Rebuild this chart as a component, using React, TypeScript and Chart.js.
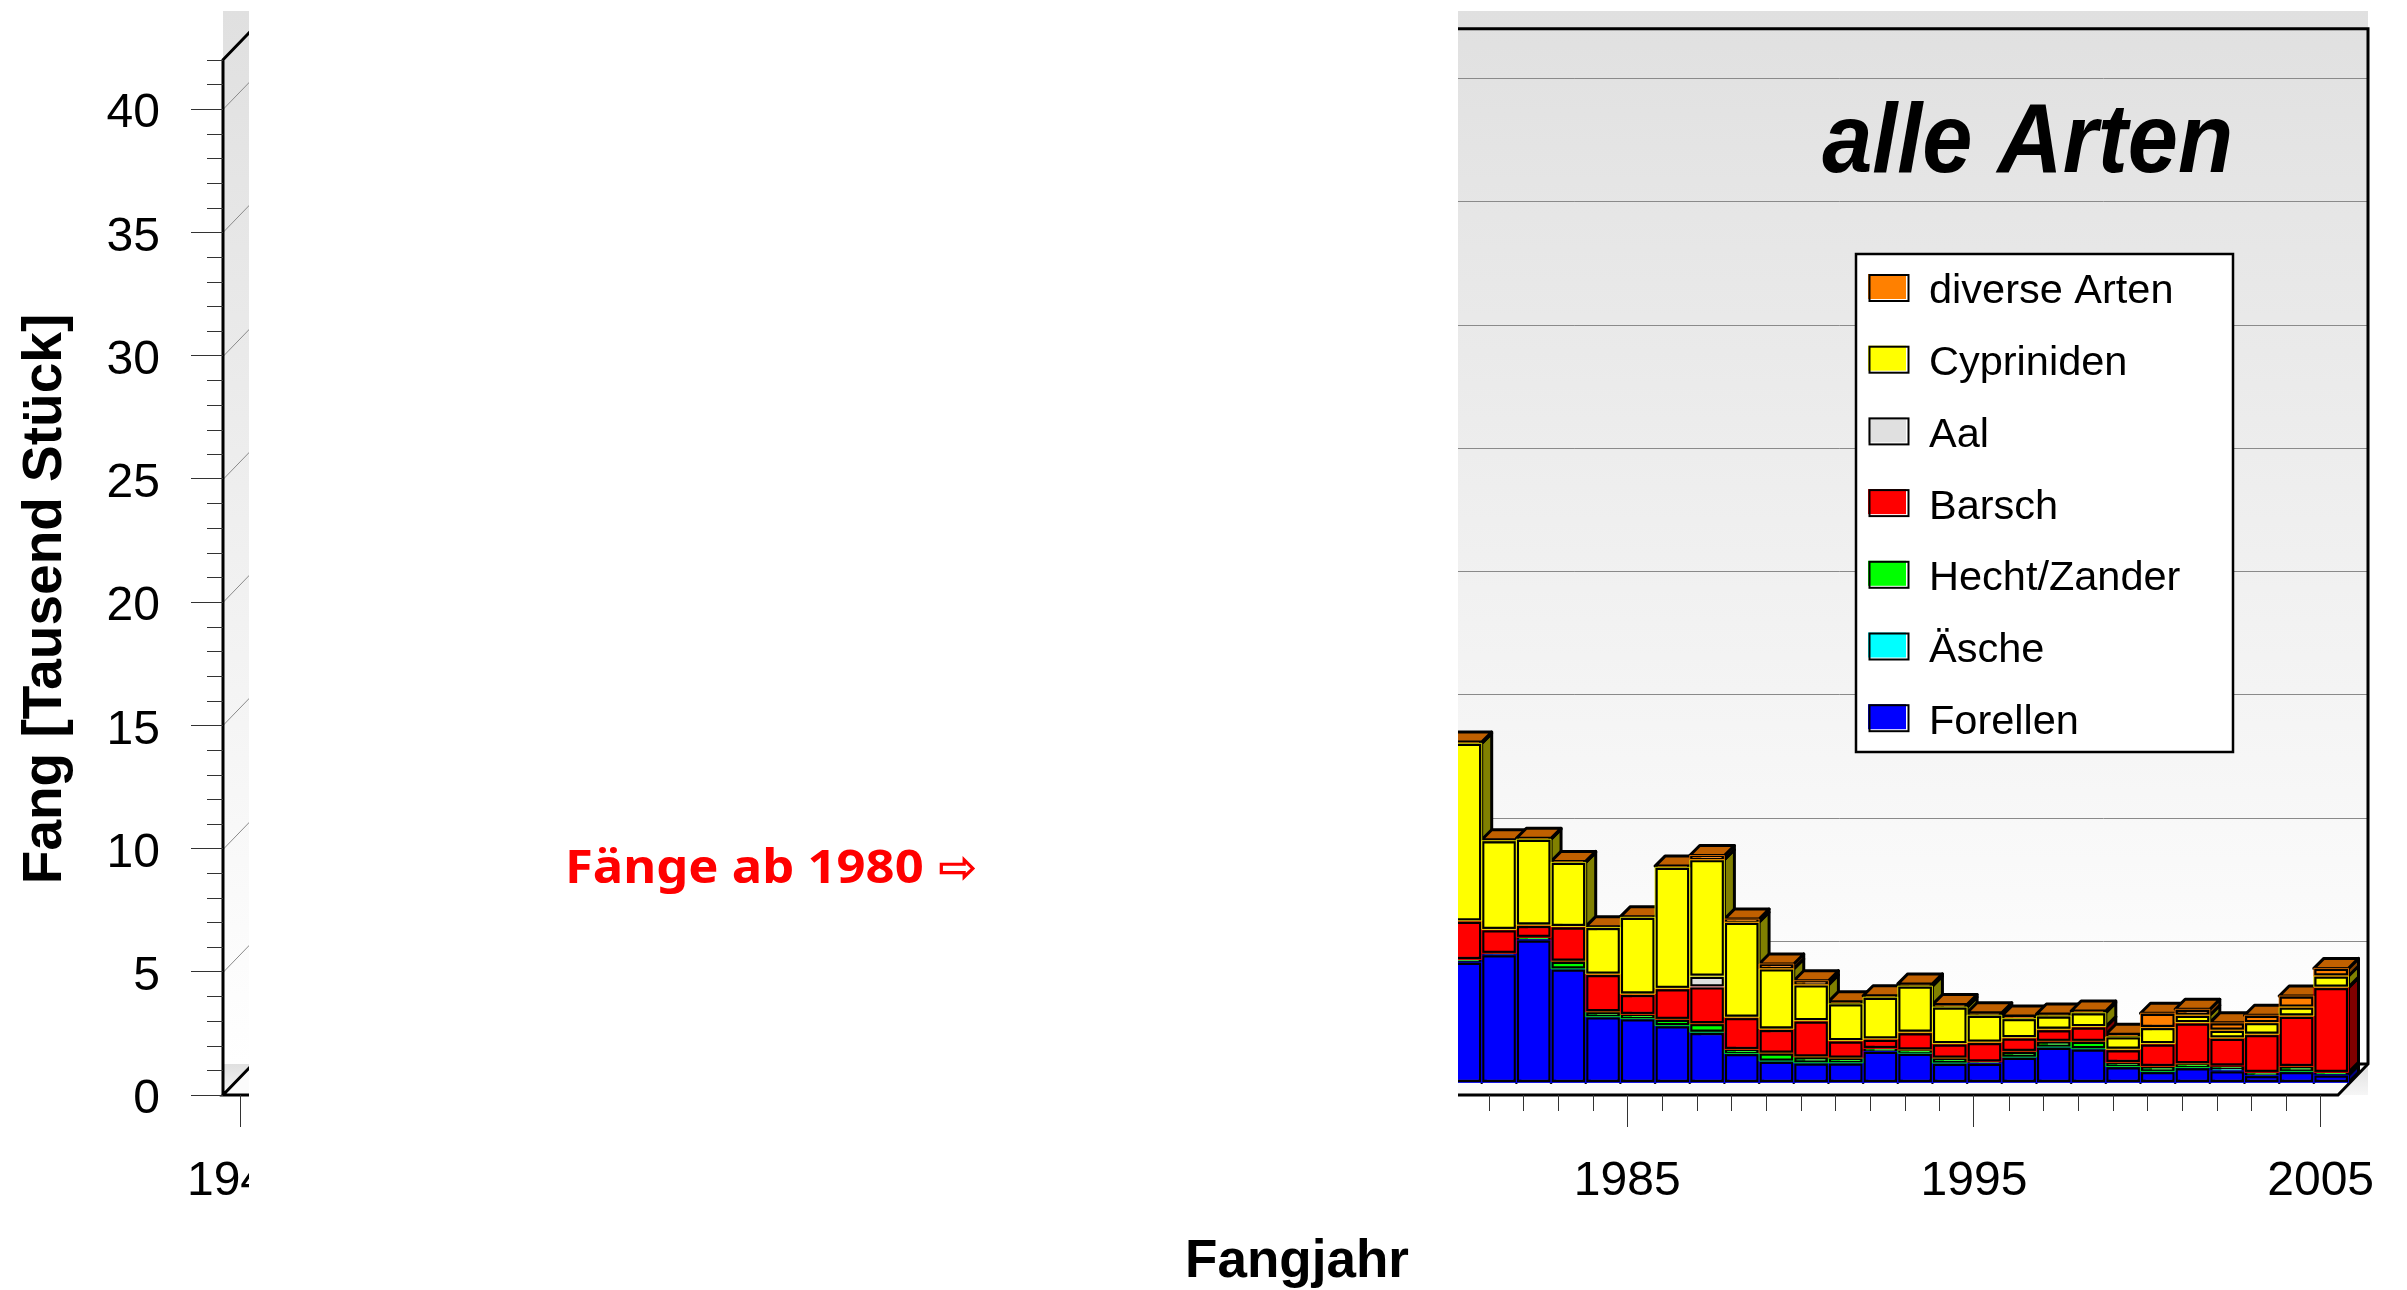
import React, { useEffect, useRef } from "react";
import { Chart, registerables } from "chart.js";

Chart.register(...registerables);

const years: string[] = Array.from({ length: 61 }, (_, i) => String(1945 + i));
const dataYears = 26; // 1980..2005
const leadIn: null[] = Array.from({ length: 35 }, () => null);

const forellen = [4.9, 5.2, 5.8, 4.62, 2.68, 2.6, 2.32, 2.05, 1.19, 0.88, 0.81, 0.81, 1.28, 1.2, 0.8, 0.8, 1.04, 1.45, 1.38, 0.66, 0.46, 0.62, 0.49, 0.3, 0.46, 0.32];
const aesche = [0.01, 0.01, 0.01, 0.01, 0.01, 0.01, 0.01, 0.01, 0.01, 0.01, 0.01, 0.01, 0.01, 0.01, 0.01, 0.01, 0.01, 0.01, 0.01, 0.01, 0.01, 0.01, 0.08, 0.01, 0.01, 0.01];
const hecht = [0.1, 0.05, 0.1, 0.31, 0.2, 0.17, 0.25, 0.35, 0.16, 0.32, 0.24, 0.19, 0.11, 0.13, 0.2, 0.05, 0.23, 0.23, 0.3, 0.16, 0.2, 0.15, 0.12, 0.12, 0.2, 0.1];
const barsch = [1.55, 0.95, 0.48, 1.39, 1.51, 0.81, 1.24, 1.49, 1.29, 0.96, 1.45, 0.69, 0.37, 0.7, 0.57, 0.78, 0.54, 0.47, 0.58, 0.52, 0.91, 1.65, 1.12, 1.53, 2.03, 3.44];
const aal = [0.02, 0.02, 0.02, 0.02, 0.02, 0.02, 0.02, 0.43, 0.02, 0.02, 0.02, 0.02, 0.02, 0.02, 0.02, 0.02, 0.02, 0.02, 0.02, 0.02, 0.02, 0.02, 0.02, 0.02, 0.02, 0.02];
const cypriniden = [7.2, 3.6, 3.48, 2.6, 1.89, 3.11, 4.91, 4.73, 3.85, 2.44, 1.45, 1.49, 1.69, 1.87, 1.48, 1.09, 0.77, 0.54, 0.56, 0.5, 0.65, 0.3, 0.31, 0.47, 0.36, 0.45];
const diverse = [0.05, 0.04, 0.04, 0.04, 0.03, 0.03, 0.05, 0.17, 0.13, 0.2, 0.17, 0.09, 0.06, 0.09, 0.1, 0.1, 0.11, 0.08, 0.07, 0.11, 0.58, 0.24, 0.3, 0.3, 0.45, 0.31];

const seriesNames = ["Forellen", "Äsche", "Hecht/Zander", "Barsch", "Aal", "Cypriniden", "diverse Arten"];
const seriesValues = [forellen, aesche, hecht, barsch, aal, cypriniden, diverse];
const seriesColors = ["#0000ff", "#00ffff", "#00ff00", "#ff0000", "#e0e0e0", "#ffff00", "#ff8000"];
const seriesSides = ["#000080", "#008080", "#008000", "#800000", "#707070", "#808000", "#804000"];
const topColor = "#c06000";

const FONT = '"Liberation Sans", Arial, sans-serif';
const SHIFT_X = 10.5;
const SHIFT_Y = -12;
const DEPTH = 10;
const WALL_D = 30;

const scene = {
  id: "scene",
  beforeDraw(chart: any) {
    const { ctx, chartArea: a } = chart;
    const y = chart.scales.y;
    const floorBack = a.bottom - WALL_D - 1;
    ctx.save();
    let g = ctx.createLinearGradient(0, 11, 0, floorBack);
    g.addColorStop(0, "#e0e0e0");
    g.addColorStop(1, "#ffffff");
    ctx.fillStyle = g;
    ctx.fillRect(a.left, 11, a.right + WALL_D - a.left, floorBack - 11);
    g = ctx.createLinearGradient(0, floorBack, 0, a.bottom);
    g.addColorStop(0, "#e0e0e0");
    g.addColorStop(1, "#f6f6f6");
    ctx.fillStyle = g;
    ctx.fillRect(a.left, floorBack, a.right + WALL_D - a.left, a.bottom - floorBack);
    // floor
    ctx.fillStyle = "#fbfbfb";
    ctx.beginPath();
    ctx.moveTo(a.left, a.bottom);
    ctx.lineTo(a.right, a.bottom);
    ctx.lineTo(a.right + WALL_D, floorBack);
    ctx.lineTo(a.left + WALL_D, floorBack);
    ctx.closePath();
    ctx.fill();
    // wall grid
    ctx.strokeStyle = "#8a8a8a";
    ctx.lineWidth = 1;
    for (let v = 5; v <= 40; v += 5) {
      const p = Math.round(y.getPixelForValue(v)) + 0.5;
      ctx.beginPath();
      ctx.moveTo(a.left, p);
      ctx.lineTo(a.left + WALL_D, p - WALL_D - 1);
      ctx.lineTo(a.right + WALL_D, p - WALL_D - 1);
      ctx.stroke();
    }
    // frame
    ctx.strokeStyle = "#000";
    ctx.lineWidth = 3;
    ctx.beginPath();
    ctx.moveTo(a.left, a.bottom);
    ctx.lineTo(a.left, a.top);
    ctx.lineTo(a.left + WALL_D, a.top - WALL_D - 1);
    ctx.lineTo(a.right + WALL_D, a.top - WALL_D - 1);
    ctx.lineTo(a.right + WALL_D, floorBack);
    ctx.lineTo(a.right, a.bottom);
    ctx.lineTo(a.left, a.bottom);
    ctx.lineTo(a.left + WALL_D, floorBack);
    ctx.stroke();
    ctx.beginPath();
    ctx.moveTo(a.right + WALL_D - DEPTH, floorBack);
    ctx.lineTo(a.right + WALL_D, floorBack);
    ctx.stroke();
    // minor ticks
    ctx.lineWidth = 1;
    ctx.strokeStyle = "#333";
    for (let v = 0; v <= 42; v++) {
      if (v % 5 === 0) continue;
      const p = Math.round(y.getPixelForValue(v)) + 0.5;
      ctx.beginPath();
      ctx.moveTo(a.left - 16, p);
      ctx.lineTo(a.left, p);
      ctx.stroke();
    }
    const x = chart.scales.x;
    years.forEach((lab, i) => {
      if ((Number(lab) - 1945) % 10 === 0) return;
      const p = Math.round(x.getPixelForValue(i)) + 0.5;
      ctx.beginPath();
      ctx.moveTo(p, a.bottom);
      ctx.lineTo(p, a.bottom + 16);
      ctx.stroke();
    });
    ctx.restore();
  },
  beforeDatasetsDraw(chart: any) {
    const { ctx } = chart;
    ctx.save();
    ctx.translate(SHIFT_X, SHIFT_Y);
    const count = seriesValues.length;
    for (let j = 35; j < 35 + dataYears; j++) {
      for (let s = 0; s < count; s++) {
        const b: any = chart.getDatasetMeta(s).data[j];
        const right = b.x + b.width / 2;
        const left = b.x - b.width / 2;
        ctx.lineWidth = 3;
        ctx.lineJoin = "round";
        ctx.strokeStyle = "#000";
        ctx.fillStyle = seriesSides[s];
        ctx.beginPath();
        ctx.moveTo(right, b.y);
        ctx.lineTo(right + DEPTH, b.y - DEPTH);
        ctx.lineTo(right + DEPTH, b.base - DEPTH);
        ctx.lineTo(right, b.base);
        ctx.closePath();
        ctx.fill();
        ctx.stroke();
        if (s === count - 1) {
          ctx.fillStyle = topColor;
          ctx.beginPath();
          ctx.moveTo(left, b.y);
          ctx.lineTo(left + DEPTH, b.y - DEPTH);
          ctx.lineTo(right + DEPTH, b.y - DEPTH);
          ctx.lineTo(right, b.y);
          ctx.closePath();
          ctx.fill();
          ctx.stroke();
        }
      }
    }
  },
  afterDatasetsDraw(chart: any) {
    const { ctx } = chart;
    const count = seriesValues.length;
    // thin coloured outer edges of the boxes
    ctx.lineWidth = 0.8;
    for (let s = 0; s < count; s++) {
      ctx.strokeStyle = seriesColors[s];
      chart.getDatasetMeta(s).data.forEach((b: any, j: number) => {
        if (j < 35 || Math.abs(b.base - b.y) < 3) return;
        ctx.strokeRect(b.x - b.width / 2, b.y, b.width, b.base - b.y);
      });
    }
    ctx.restore();

    // blank block hiding the years before 1980
    ctx.fillStyle = "#ffffff";
    ctx.fillRect(249, 0, 1458 - 249, 1232);

    // text
    ctx.save();
    ctx.textBaseline = "alphabetic";
    ctx.fillStyle = "#ff0000";
    ctx.textAlign = "left";
    ctx.save();
    ctx.translate(565, 883);
    ctx.scale(1.08, 1);
    ctx.font = 'bold 47px "Noto Sans", "DejaVu Sans"';
    ctx.fillText("Fänge ab 1980", 0, 0);
    ctx.restore();
    ctx.font = 'bold 47px "Noto Sans", "DejaVu Sans"';
    ctx.fillText("⇨", 938, 883);

    ctx.textBaseline = "middle";
    ctx.fillStyle = "#000";
    ctx.font = `bold 53px ${FONT}`;
    ctx.textAlign = "center";
    ctx.fillText("Fangjahr", 1297, 1262);
    ctx.save();
    ctx.translate(46, 599);
    ctx.rotate(-Math.PI / 2);
    ctx.font = `bold 55px ${FONT}`;
    ctx.fillText("Fang [Tausend Stück]", 0, 0);
    ctx.restore();

    ctx.save();
    ctx.translate(2233, 172);
    ctx.scale(0.92, 1);
    ctx.textAlign = "right";
    ctx.textBaseline = "alphabetic";
    ctx.font = `italic bold 98px ${FONT}`;
    ctx.fillText("alle Arten", 0, 0);
    ctx.restore();

    // legend
    const bx = 1856, by = 254, bw = 377, bh = 498;
    ctx.fillStyle = "#fff";
    ctx.fillRect(bx, by, bw, bh);
    ctx.strokeStyle = "#000";
    ctx.lineWidth = 2.5;
    ctx.strokeRect(bx, by, bw, bh);
    ctx.font = `41.5px ${FONT}`;
    ctx.textAlign = "left";
    ctx.textBaseline = "middle";
    for (let s = 0; s < count; s++) {
      const idx = count - 1 - s;
      const rowY = 275 + s * 71.7;
      ctx.fillStyle = "#000";
      ctx.fillText(chart.data.datasets[idx].label, 1929, rowY + 17);
      ctx.fillStyle = seriesColors[idx];
      ctx.fillRect(1868, rowY - 1, 38, 25);
      ctx.strokeStyle = "#000";
      ctx.lineWidth = 2;
      ctx.strokeRect(1869.5, rowY, 39, 26);
    }
    ctx.restore();
  },
};

export default function App() {
  const ref = useRef<HTMLCanvasElement | null>(null);
  useEffect(() => {
    document.body.style.margin = "0";
    const chart = new Chart(ref.current as HTMLCanvasElement, {
      type: "bar",
      data: {
        labels: years,
        datasets: seriesNames.map((label, i) => ({
          label,
          data: [...leadIn, ...seriesValues[i]],
          backgroundColor: seriesColors[i],
          borderColor: "#000000",
          borderWidth: 3,
          borderSkipped: false,
          barPercentage: 1,
          categoryPercentage: 1,
          clip: false,
        })),
      } as any,
      options: {
        responsive: false,
        animation: false,
        events: [],
        layout: { autoPadding: false, padding: { top: 59, right: 69, left: 0, bottom: 0 } },
        plugins: { legend: { display: false }, tooltip: { enabled: false }, title: { display: false } },
        scales: {
          x: {
            stacked: true,
            offset: true,
            afterFit(s: any) { s.height = 195; },
            border: { display: false },
            grid: {
              offset: false,
              drawOnChartArea: false,
              tickLength: 32,
              tickColor: (c: any) => ((c.index % 10 === 0) ? "#333" : "transparent"),
            },
            ticks: {
              autoSkip: false,
              maxRotation: 0,
              padding: 26,
              color: "#000",
              font: { family: FONT, size: 48 },
              callback: (_: any, i: number) => (i % 10 === 0 ? years[i] : ""),
            },
          },
          y: {
            stacked: true,
            min: 0,
            max: 42,
            afterFit(s: any) { s.width = 223; },
            border: { display: false },
            grid: {
              drawOnChartArea: false,
              tickLength: 32,
              tickColor: (c: any) => (c.tick.value % 5 === 0 ? "#333" : "transparent"),
            },
            ticks: {
              stepSize: 1,
              autoSkip: false,
              padding: 31,
              labelOffset: 5,
              color: "#000",
              font: { family: FONT, size: 48 },
              callback: (v: any) => (Number(v) % 5 === 0 ? String(v) : ""),
            },
          },
        },
      } as any,
      plugins: [scene],
    });
    return () => chart.destroy();
  }, []);
  return (
    <div style={{ width: 2407, height: 1290, overflow: "hidden" }}>
      <canvas ref={ref} width={2407} height={1290} style={{ display: "block" }} />
    </div>
  );
}
